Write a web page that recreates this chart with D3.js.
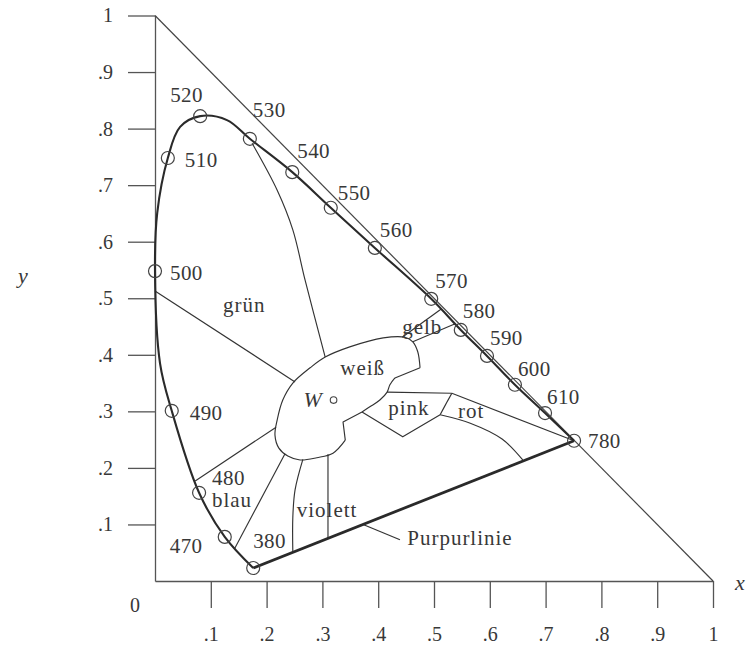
<!DOCTYPE html>
<html><head><meta charset="utf-8">
<script src="https://cdn.jsdelivr.net/npm/d3@7"></script>
<style>
body{margin:0;background:#fff}
svg text{font-family:"Liberation Serif","Times New Roman",serif;fill:#383838}
</style></head><body>
<svg id="chart" width="749" height="645"></svg>
<script>
// Spectral locus of the CIE 1931 chromaticity diagram (wavelength in nm)
const locusNm = [380, 470, 480, 490, 495, 500, 505, 510, 515, 520, 525, 530, 540, 550, 560, 570, 580, 590, 600, 610, 780];
const locusX  = [0.176, 0.125, 0.079, 0.030, 0.009, 0.000, 0.004, 0.023, 0.045, 0.081, 0.129, 0.170, 0.246, 0.315, 0.394, 0.495, 0.548, 0.595, 0.645, 0.699, 0.751];
const locusY  = [0.023, 0.078, 0.156, 0.301, 0.385, 0.548, 0.651, 0.748, 0.803, 0.822, 0.815, 0.782, 0.723, 0.660, 0.589, 0.499, 0.444, 0.398, 0.347, 0.297, 0.248];
// wavelengths that get a ring and a label
const markedNm = [380, 470, 480, 490, 500, 510, 520, 530, 540, 550, 560, 570, 580, 590, 600, 610, 780];

// axis ticks
const xTicks = [0.1, 0.2, 0.3, 0.4, 0.5, 0.6, 0.7, 0.8, 0.9, 1];
const xTickLabels = [".1", ".2", ".3", ".4", ".5", ".6", ".7", ".8", ".9", "1"];
const yTicks = [0.1, 0.2, 0.3, 0.4, 0.5, 0.6, 0.7, 0.8, 0.9, 1];
const yTickLabels = [".1", ".2", ".3", ".4", ".5", ".6", ".7", ".8", ".9", "1"];

// white area around the equal-energy point
const whiteArc = [[0.341,0.249],[0.319,0.226],[0.290,0.218],[0.260,0.214],[0.238,0.221],[0.222,0.235],[0.215,0.258],[0.219,0.285],[0.229,0.320],[0.247,0.350],[0.278,0.377],[0.305,0.396],[0.349,0.414],[0.409,0.430],[0.448,0.431],[0.462,0.423],[0.471,0.405],[0.475,0.377]];
const whiteStep = [[0.475,0.377],[0.430,0.359]];
const whiteInner = [[0.430,0.359],[0.421,0.347],[0.416,0.334],[0.403,0.320],[0.385,0.308],[0.371,0.299]];
const whiteNotch = [[0.371,0.299],[0.337,0.281],[0.341,0.249]];
const whitePoint = [0.320, 0.320];

// hue region boundaries
const border530 = [[0.174,0.774],[0.219,0.691],[0.247,0.621],[0.269,0.532],[0.305,0.396]];
const borderGreen = [[0.000,0.513],[0.251,0.352]];
const border480 = [[0.072,0.177],[0.217,0.272]];
const border470 = [[0.143,0.058],[0.233,0.225]];
const violetLeft = [[0.265,0.215],[0.251,0.161],[0.247,0.113],[0.247,0.051]];
const violetRight = [[0.310,0.224],[0.310,0.075]];
const yellowUpper = [[0.443,0.431],[0.513,0.481]];
const yellowLower = [[0.462,0.423],[0.538,0.455]];
const pinkTop = [[0.416,0.334],[0.532,0.332]];
const redTop = [[0.532,0.332],[0.751,0.248]];
const pinkRight = [[0.532,0.332],[0.523,0.316],[0.511,0.294]];
const pinkBottom = [[0.371,0.299],[0.444,0.255],[0.511,0.294]];
const redCurve = [[0.511,0.294],[0.565,0.279],[0.622,0.251],[0.659,0.214]];
const purpleLeader = [[0.373,0.100],[0.439,0.073]];

// region names and their anchor points
const regionNames = ["grün", "weiß", "gelb", "pink", "rot", "violett", "blau", "Purpurlinie"];
const regionX = [0.122, 0.332, 0.443, 0.418, 0.543, 0.254, 0.102, 0.452];
const regionY = [0.476, 0.364, 0.437, 0.294, 0.288, 0.113, 0.131, 0.064];

// label placement next to each ring, in pixels (dx, dy of text start/baseline)
const ringLabelOffset = {
  380:[0,-20], 470:[-55,16], 480:[13,-8], 490:[18,9], 500:[15,9], 510:[17,9],
  520:[-30,-14], 530:[3,-22], 540:[5,-14], 550:[7,-8], 560:[5,-11], 570:[4,-11],
  580:[2,-12], 590:[3,-11], 600:[3,-9], 610:[2,-9], 780:[14,7]
};

const svg = d3.select("#chart");
svg.append("rect").attr("width", 749).attr("height", 645).attr("fill", "#fff");

const x = d3.scaleLinear().domain([0, 1]).range([155, 713]);
const y = d3.scaleLinear().domain([0, 1]).range([581, 15.5]);

const ink = "#333";

// axes
const yAxis = d3.axisLeft(y).tickValues(yTicks).tickSize(27).tickSizeOuter(0).tickPadding(15)
  .tickFormat((d, i) => yTickLabels[i]);
const gy = svg.append("g").attr("transform", `translate(${x(0)},0)`).call(yAxis);
const xAxis = d3.axisBottom(x).tickValues(xTicks).tickSize(27).tickSizeOuter(0).tickPadding(19)
  .tickFormat((d, i) => xTickLabels[i]);
const gx = svg.append("g").attr("transform", `translate(0,${y(0)})`).call(xAxis);
[gx, gy].forEach(g => {
  g.selectAll("path, line").attr("stroke", "#555").attr("stroke-width", 1.3);
  g.selectAll("text").attr("font-size", 20).attr("fill", "#383838")
    .attr("font-family", "'Liberation Serif', serif");
});

svg.append("text").attr("x", 130).attr("y", 612).attr("font-size", 20).text("0");
svg.append("text").attr("x", 18).attr("y", 283).attr("font-size", 22).attr("font-style", "italic").text("y");
svg.append("text").attr("x", 735).attr("y", 590).attr("font-size", 22).attr("font-style", "italic").text("x");

// x + y = 1
svg.append("line")
  .attr("x1", x(0)).attr("y1", y(1)).attr("x2", x(1)).attr("y2", y(0))
  .attr("stroke", "#444").attr("stroke-width", 1.2);

const smooth = d3.line().x(d => x(d[0])).y(d => y(d[1])).curve(d3.curveCatmullRom.alpha(0.5));
const straight = d3.line().x(d => x(d[0])).y(d => y(d[1]));

// region boundaries
const thin = (pts, gen) => svg.append("path").attr("d", gen(pts))
  .attr("fill", "none").attr("stroke", ink).attr("stroke-width", 1.15).attr("stroke-linejoin", "round");

thin(whiteArc, smooth);
thin(whiteStep, straight);
thin(whiteInner, smooth);
thin(whiteNotch, straight);
thin(border530, smooth);
thin(borderGreen, straight);
thin(border480, straight);
thin(border470, straight);
thin(violetLeft, smooth);
thin(violetRight, straight);
thin(yellowUpper, straight);
thin(yellowLower, straight);
thin(pinkTop, straight);
thin(redTop, straight);
thin(pinkRight, smooth);
thin(pinkBottom, straight);
thin(redCurve, smooth);
thin(purpleLeader, straight);

// spectral locus
const locus = locusNm.map((nm, i) => [locusX[i], locusY[i]]);
svg.append("path").attr("d", smooth(locus))
  .attr("fill", "none").attr("stroke", "#2a2a2a").attr("stroke-width", 2.1);

// line of purples
const first = locus[0], last = locus[locus.length - 1];
svg.append("path").attr("d", straight([first, last]))
  .attr("fill", "none").attr("stroke", "#2a2a2a").attr("stroke-width", 2.8);

// rings and wavelength labels
const marked = markedNm.map(nm => { const i = locusNm.indexOf(nm); return {nm, x: locusX[i], y: locusY[i]}; });
svg.append("g").selectAll("circle").data(marked).join("circle")
  .attr("cx", d => x(d.x)).attr("cy", d => y(d.y)).attr("r", 6.5)
  .attr("fill", "none").attr("stroke", "#444").attr("stroke-width", 1.2);
svg.append("g").selectAll("text").data(marked).join("text")
  .attr("x", d => x(d.x) + ringLabelOffset[d.nm][0])
  .attr("y", d => y(d.y) + ringLabelOffset[d.nm][1])
  .attr("font-size", 21).attr("letter-spacing", 0.4)
  .text(d => d.nm);

// region names
svg.append("g").selectAll("text").data(regionNames).join("text")
  .attr("x", (d, i) => x(regionX[i])).attr("y", (d, i) => y(regionY[i]))
  .attr("font-size", 21).attr("letter-spacing", 1)
  .text(d => d);

// equal-energy white point W
svg.append("circle").attr("cx", x(whitePoint[0])).attr("cy", y(whitePoint[1])).attr("r", 3.3)
  .attr("fill", "none").attr("stroke", "#444").attr("stroke-width", 1.1);
svg.append("text").attr("x", x(whitePoint[0]) - 30).attr("y", y(whitePoint[1]) + 7)
  .attr("font-size", 22).attr("font-style", "italic").text("W");
</script>
</body></html>
